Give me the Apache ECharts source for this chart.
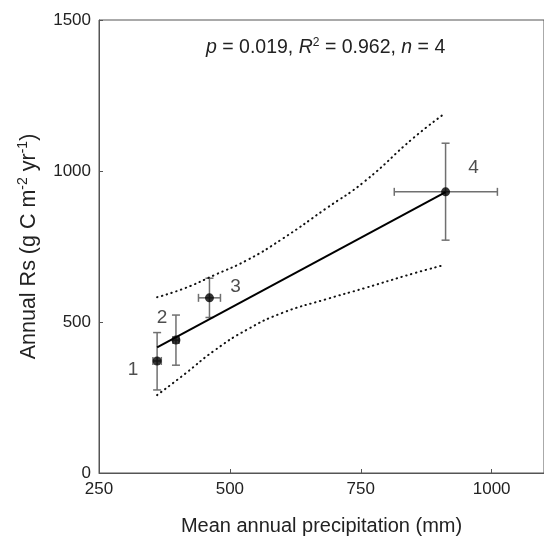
<!DOCTYPE html>
<html>
<head>
<meta charset="utf-8">
<script src="https://cdn.jsdelivr.net/npm/echarts@6/dist/echarts.min.js"></script>
<style>html,body{margin:0;padding:0;background:#fff;}#c{width:544px;height:543px;}</style>
</head>
<body>
<div id="c"></div>
<script>
// ---- data ----
var siteIds   = ['1', '2', '3', '4'];
var precip    = [361, 397, 461, 912];       // mm
var rsValues  = [371, 440, 580, 931];       // g C m-2 yr-1
var rsErrLow  = [275, 357, 515, 771];
var rsErrHigh = [465, 523, 645, 1092];
var precipErrLow  = [353, 391, 440, 814];
var precipErrHigh = [369, 403, 482, 1011];
var fitLine   = [[361, 416], [912, 930]];
var upperBand = [[361, 582], [414, 612], [470, 655], [533, 705], [600, 775], [683, 875], [757, 965], [851, 1110], [910, 1190]];
var lowerBand = [[361, 258], [414, 328], [470, 405], [533, 475], [600, 530], [683, 575], [757, 612], [851, 661], [910, 689]];
var xTicks = [250, 500, 750, 1000];
var yTicks = [0, 500, 1000, 1500];

// label offsets (style)
var labelOffsets = [[-24, 9], [-14, -22], [26, -11], [28, -24]];

var chart = echarts.init(document.getElementById('c'), null, {renderer: 'canvas'});
var font = 'Liberation Sans, Arial, sans-serif';
var axisColor = '#555';
var textColor = '#222';

var pointData = precip.map(function (x, i) {
  return {
    value: [x, rsValues[i]],
    label: {show: true, formatter: siteIds[i], position: 'inside', offset: labelOffsets[i],
            color: textColor, fontSize: 19, fontFamily: font}
  };
});

var errData = precip.map(function (x, i) {
  return [x, rsValues[i], rsErrLow[i], rsErrHigh[i], precipErrLow[i], precipErrHigh[i]];
});

option = {
  animation: false,
  backgroundColor: '#fff',
  grid: {left: 99, top: 20, right: -9, bottom: 70, show: true, borderColor: axisColor, borderWidth: 1},
  xAxis: {
    type: 'value', min: 250, max: 1100, interval: 250,
    axisLine: {show: true, lineStyle: {color: axisColor, width: 1}},
    axisTick: {show: true, inside: true, length: 4, lineStyle: {color: axisColor}},
    axisLabel: {color: textColor, fontSize: 17, fontFamily: font, margin: 8, showMaxLabel: false,
      formatter: function (v) { return xTicks.indexOf(v) >= 0 ? String(v) : ''; }},
    splitLine: {show: false},
    name: 'Mean annual precipitation (mm)', nameLocation: 'middle', nameGap: 43,
    nameTextStyle: {color: textColor, fontSize: 20, fontFamily: font}
  },
  yAxis: {
    type: 'value', min: 0, max: 1500, interval: 500,
    axisLine: {show: true, lineStyle: {color: axisColor, width: 1}},
    axisTick: {show: true, inside: true, length: 4, lineStyle: {color: axisColor}},
    axisLabel: {color: textColor, fontSize: 17, fontFamily: font, margin: 8,
      formatter: function (v) { return yTicks.indexOf(v) >= 0 ? String(v) : ''; }},
    splitLine: {show: false},
    name: '{t|Annual Rs (g C m}{s|-2}{t| yr}{s|-1}{t|)}', nameLocation: 'middle', nameGap: 57,
    nameTextStyle: {
      color: textColor, fontFamily: font, fontSize: 21.5,
      rich: {
        t: {fontSize: 21.5, fontFamily: font, color: textColor, lineHeight: 26},
        s: {fontSize: 14, fontFamily: font, color: textColor, lineHeight: 26, padding: [0, 0, 11, 0]}
      }
    }
  },
  graphic: [{
    type: 'text', left: 206, top: 37,
    style: {
      rich: {
        i: {fontStyle: 'italic', fontSize: 19.5, fontFamily: font, fill: textColor},
        t: {fontSize: 19.5, fontFamily: font, fill: textColor},
        s: {fontSize: 12, fontFamily: font, fill: textColor, padding: [0, 0, 9, 0]}
      },
      text: '{i|p}{t| = 0.019, }{i|R}{s|2}{t| = 0.962, }{i|n}{t| = 4}'
    }
  }],
  series: [
    {
      type: 'line', data: upperBand, smooth: true, symbol: 'none', silent: true,
      lineStyle: {color: '#111', width: 2, type: [0.5, 4.5], cap: 'round'}
    },
    {
      type: 'line', data: lowerBand, smooth: true, symbol: 'none', silent: true,
      lineStyle: {color: '#111', width: 2, type: [0.5, 4.5], cap: 'round'}
    },
    {
      type: 'custom', data: errData, z: 3,
      renderItem: function (params, api) {
        var c = api.coord([api.value(0), api.value(1)]);
        var lo = api.coord([api.value(0), api.value(2)]);
        var hi = api.coord([api.value(0), api.value(3)]);
        var xl = api.coord([api.value(4), api.value(1)]);
        var xh = api.coord([api.value(5), api.value(1)]);
        var cap = 4;
        var st = {stroke: '#707070', lineWidth: 1.5};
        return {
          type: 'group',
          children: [
            {type: 'line', shape: {x1: c[0], y1: lo[1], x2: c[0], y2: hi[1]}, style: st},
            {type: 'line', shape: {x1: c[0] - cap, y1: lo[1], x2: c[0] + cap, y2: lo[1]}, style: st},
            {type: 'line', shape: {x1: c[0] - cap, y1: hi[1], x2: c[0] + cap, y2: hi[1]}, style: st},
            {type: 'line', shape: {x1: xl[0], y1: c[1], x2: xh[0], y2: c[1]}, style: st},
            {type: 'line', shape: {x1: xl[0], y1: c[1] - cap, x2: xl[0], y2: c[1] + cap}, style: st},
            {type: 'line', shape: {x1: xh[0], y1: c[1] - cap, x2: xh[0], y2: c[1] + cap}, style: st}
          ]
        };
      }
    },
    {
      type: 'line', data: fitLine, symbol: 'none', z: 4,
      lineStyle: {color: '#000', width: 2}
    },
    {
      type: 'scatter', data: pointData, symbol: 'circle', symbolSize: 9, z: 5,
      itemStyle: {color: '#000'}
    }
  ]
};
chart.setOption(option);
</script>
</body>
</html>
